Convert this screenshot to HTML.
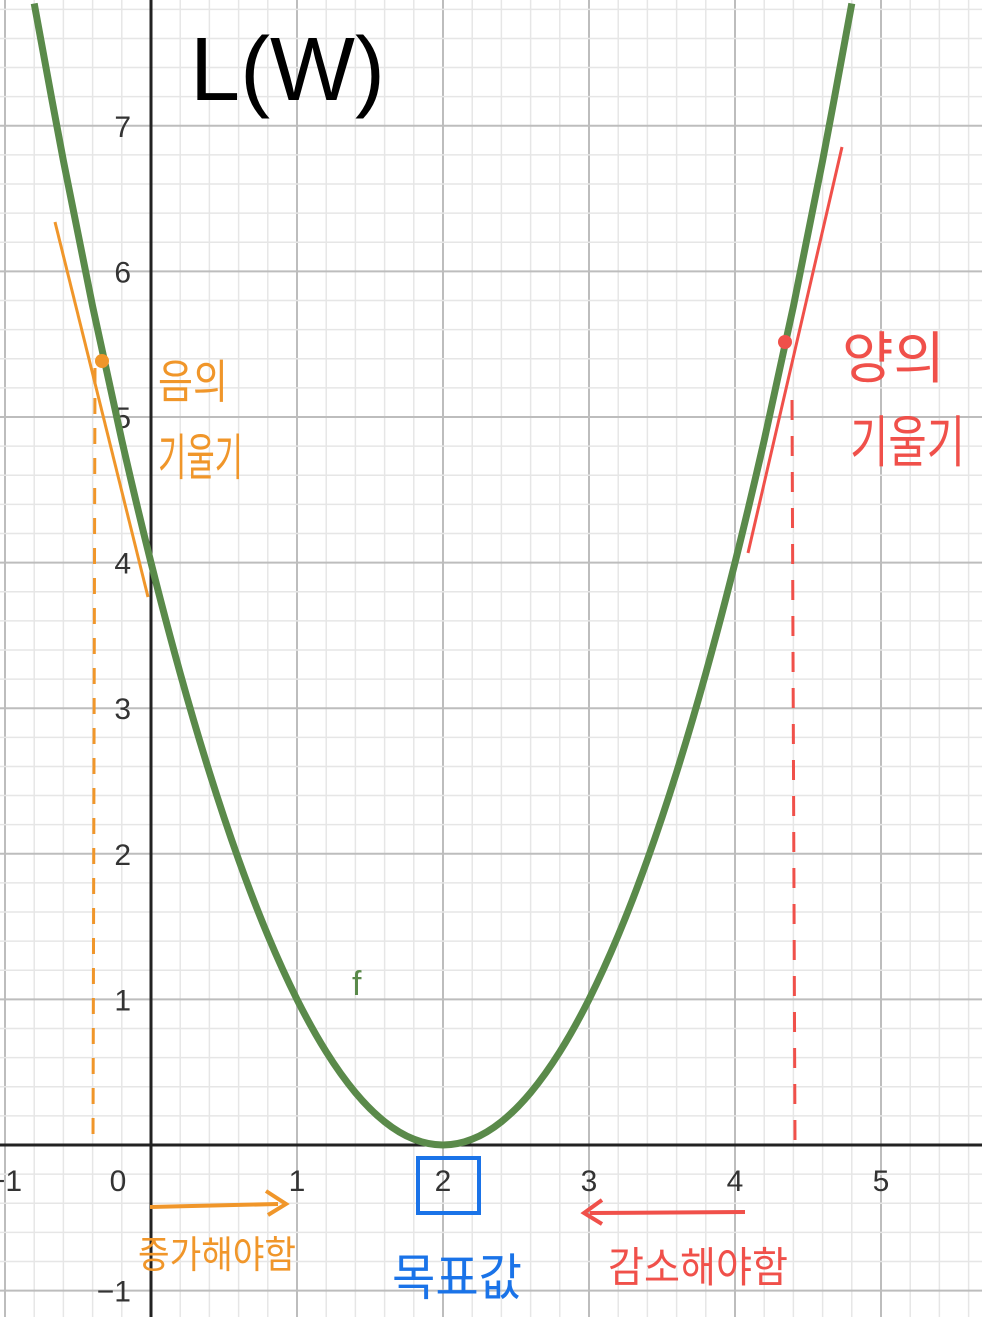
<!DOCTYPE html>
<html><head><meta charset="utf-8"><style>
html,body{margin:0;padding:0;background:#fff;}
svg{display:block;}
text{font-family:"Liberation Sans",sans-serif;}
.hw{font-family:"Liberation Sans","Noto Sans CJK KR","NanumGothic",sans-serif;}
</style></head><body>
<svg id="chart" width="982" height="1317" viewBox="0 0 982 1317" xmlns="http://www.w3.org/2000/svg">
<g id="grid"></g>
<g id="axes"></g>
<g id="ticks"></g>
<path id="curve" fill="none" stroke="#5a8a4a" stroke-width="7"/>
<text x="352" y="995" font-size="34" fill="#5a8a4a">f</text>
<text x="190" y="100" class="hw" font-size="90" font-weight="300" fill="#000" textLength="195" lengthAdjust="spacingAndGlyphs">L(W)</text>
<line x1="55" y1="222" x2="148" y2="597" stroke="#f0962a" stroke-width="3"/>
<circle cx="102" cy="361" r="7" fill="#f0962a"/>
<line x1="95" y1="368" x2="93" y2="1145" stroke="#f0962a" stroke-width="3" stroke-dasharray="16,14"/>
<text x="158" y="398" class="hw" font-size="46" fill="#f0962a" textLength="70" lengthAdjust="spacingAndGlyphs">음의</text>
<text x="158" y="475" class="hw" font-size="50" fill="#f0962a" textLength="85" lengthAdjust="spacingAndGlyphs">기울기</text>
<line x1="150" y1="1207" x2="278" y2="1204" stroke="#f0962a" stroke-width="4"/>
<polyline points="266,1191 286,1204 268,1215" fill="none" stroke="#f0962a" stroke-width="4"/>
<text x="138" y="1268" class="hw" font-size="38" fill="#f0962a" textLength="158" lengthAdjust="spacingAndGlyphs">증가해야함</text>
<line x1="748" y1="553" x2="842" y2="147" stroke="#f0504a" stroke-width="3"/>
<circle cx="785" cy="342" r="7" fill="#f0504a"/>
<line x1="792" y1="400" x2="795" y2="1145" stroke="#f0504a" stroke-width="3" stroke-dasharray="20,16"/>
<text x="842" y="378" class="hw" font-size="56" fill="#f0504a" textLength="103" lengthAdjust="spacingAndGlyphs">양의</text>
<text x="850" y="462" class="hw" font-size="56" fill="#f0504a" textLength="115" lengthAdjust="spacingAndGlyphs">기울기</text>
<line x1="590" y1="1213" x2="745" y2="1212" stroke="#f0504a" stroke-width="4"/>
<polyline points="602,1200 584,1213 602,1224" fill="none" stroke="#f0504a" stroke-width="4"/>
<text x="608" y="1282" class="hw" font-size="42" fill="#f0504a" textLength="180" lengthAdjust="spacingAndGlyphs">감소해야함</text>
<rect x="418" y="1158" width="61" height="55" fill="none" stroke="#1a73e8" stroke-width="4"/>
<text x="392" y="1295" class="hw" font-size="50" fill="#1a73e8" textLength="130" lengthAdjust="spacingAndGlyphs">목표값</text>
</svg>
<script>
const xTicks=[-1,0,1,2,3,4,5];
const yTicks=[-1,1,2,3,4,5,6,7];
const curveX=[-0.8,-0.6,-0.4,-0.2,0,0.2,0.4,0.6,0.8,1,1.2,1.4,1.6,1.8,2,2.2,2.4,2.6,2.8,3,3.2,3.4,3.6,3.8,4,4.2,4.4,4.6,4.8];
const curveY=[7.84,6.76,5.76,4.84,4,3.24,2.56,1.96,1.44,1,0.64,0.36,0.16,0.04,0,0.04,0.16,0.36,0.64,1,1.44,1.96,2.56,3.24,4,4.84,5.76,6.76,7.84];
const NS="http://www.w3.org/2000/svg";
const X0=151,XS=146,Y0=1145,YS=145.6;
const sx=v=>X0+v*XS, sy=v=>Y0-v*YS;
const grid=document.getElementById('grid');
function ln(g,x1,y1,x2,y2,c,w){const l=document.createElementNS(NS,'line');l.setAttribute('x1',x1);l.setAttribute('y1',y1);l.setAttribute('x2',x2);l.setAttribute('y2',y2);l.setAttribute('stroke',c);l.setAttribute('stroke-width',w);g.appendChild(l);return l;}
for(let i=-6;i<=30;i++){const v=i/5;const major=i%5===0;const l=ln(grid,sx(v),0,sx(v),1317,major?'#bdbdbd':'#e6e6e6',major?2:1.5);

}
for(let i=-6;i<=40;i++){const v=i/5;const major=i%5===0;const l=ln(grid,0,sy(v),982,sy(v),major?'#bdbdbd':'#e6e6e6',major?2:1.5);

}
const axes=document.getElementById('axes');
const xa=ln(axes,0,Y0,982,Y0,'#222',3);


const ya=ln(axes,X0,0,X0,1317,'#222',3);


const tk=document.getElementById('ticks');
xTicks.forEach(v=>{const t=document.createElementNS(NS,'text');t.setAttribute('x',v===0?118:sx(v));t.setAttribute('y',1191);t.setAttribute('font-size',30);t.setAttribute('fill','#333');t.setAttribute('text-anchor','middle');t.textContent=v<0?'\u2212'+(-v):v;


tk.appendChild(t);});
yTicks.forEach(v=>{const t=document.createElementNS(NS,'text');t.setAttribute('x',131);t.setAttribute('y',sy(v)+11);t.setAttribute('font-size',30);t.setAttribute('fill','#333');t.setAttribute('text-anchor','end');t.textContent=v<0?'\u2212'+(-v):v;


tk.appendChild(t);});
const P=curveX.map((x,i)=>[sx(x),sy(curveY[i])]);
let d='M'+P[0][0]+','+P[0][1];
for(let i=0;i<P.length-1;i++){const p0=P[Math.max(i-1,0)],p1=P[i],p2=P[i+1],p3=P[Math.min(i+2,P.length-1)];
d+=' C'+(p1[0]+(p2[0]-p0[0])/6)+','+(p1[1]+(p2[1]-p0[1])/6)+' '+(p2[0]-(p3[0]-p1[0])/6)+','+(p2[1]-(p3[1]-p1[1])/6)+' '+p2[0]+','+p2[1];}
document.getElementById('curve').setAttribute('d',d);
</script>
</body></html>
